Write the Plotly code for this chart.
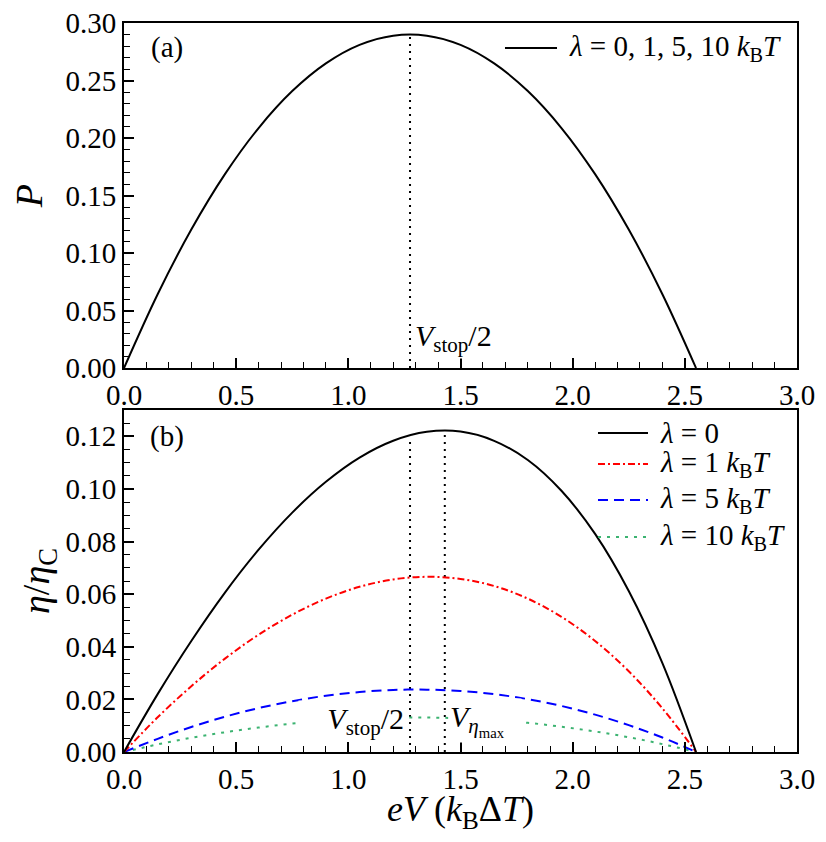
import plotly.graph_objects as go
from plotly.subplots import make_subplots

# ---- data ----
eV = [0.0, 0.15, 0.30, 0.45, 0.60, 0.75, 0.90, 1.05, 1.20, 1.35, 1.50, 1.65, 1.80, 1.95, 2.10, 2.25, 2.40, 2.55]
power = [0.0, 0.0642, 0.1204, 0.1686, 0.2087, 0.2408, 0.2649, 0.2810, 0.2890, 0.2890, 0.2810, 0.2649, 0.2408, 0.2087, 0.1686, 0.1204, 0.0642, 0.0]
eta_l0 = [0.0, 0.0220, 0.0422, 0.0606, 0.0769, 0.0910, 0.1027, 0.1119, 0.1183, 0.1217, 0.1218, 0.1183, 0.1110, 0.0993, 0.0829, 0.0612, 0.0338, 0.0]
eta_l1 = [0.0, 0.0132, 0.0250, 0.0355, 0.0446, 0.0522, 0.0583, 0.0628, 0.0656, 0.0666, 0.0658, 0.0631, 0.0583, 0.0514, 0.0422, 0.0307, 0.0166, 0.0]
eta_l5 = [0.0, 0.0050, 0.0095, 0.0134, 0.0167, 0.0193, 0.0214, 0.0228, 0.0236, 0.0237, 0.0232, 0.0220, 0.0201, 0.0175, 0.0142, 0.0102, 0.0055, 0.0]
eta_l10 = [0.0, 0.0029, 0.0054, 0.0075, 0.0093, 0.0108, 0.0119, 0.0127, 0.0131, 0.0131, 0.0128, 0.0121, 0.0111, 0.0096, 0.0078, 0.0056, 0.0030, 0.0]
v_stop_half = 1.275
v_eta_max = 1.43
p_at_half = 0.290
eta_at_half = 0.1195
eta_at_max = 0.1223

x_ticks = [0.0, 0.5, 1.0, 1.5, 2.0, 2.5, 3.0]
p_ticks = [0.0, 0.05, 0.10, 0.15, 0.20, 0.25, 0.30]
eta_ticks = [0.0, 0.02, 0.04, 0.06, 0.08, 0.10, 0.12]

FONT = "Liberation Serif, DejaVu Serif, serif"
KBT = "<i>k</i><sub>B</sub><i>T</i>"
DOT = "2px,5px"

fig = make_subplots(rows=2, cols=1, shared_xaxes=False, vertical_spacing=0.0)

fig.add_trace(go.Scatter(x=eV, y=power, mode="lines", line=dict(color="black", width=2, shape="spline"),
                         name="<i>λ</i> = 0, 1, 5, 10 " + KBT, showlegend=False), row=1, col=1)
fig.add_trace(go.Scatter(x=[v_stop_half, v_stop_half], y=[0, p_at_half], mode="lines",
                         line=dict(color="black", width=2, dash=DOT), showlegend=False), row=1, col=1)
fig.add_trace(go.Scatter(x=[v_stop_half, v_stop_half], y=[0, eta_at_half], mode="lines",
                         line=dict(color="black", width=2, dash=DOT), showlegend=False), row=2, col=1)
fig.add_trace(go.Scatter(x=[v_eta_max, v_eta_max], y=[0, eta_at_max], mode="lines",
                         line=dict(color="black", width=2, dash=DOT), showlegend=False), row=2, col=1)

series = [
    (eta_l10, "<i>λ</i> = 10 " + KBT, "#3cb371", "3px,6px"),
    (eta_l5, "<i>λ</i> = 5 " + KBT, "blue", "10px,6px"),
    (eta_l1, "<i>λ</i> = 1 " + KBT, "red", "7px,3px,2px,3px"),
    (eta_l0, "<i>λ</i> = 0", "black", "solid"),
]
for ys, nm, col, dash in series:
    fig.add_trace(go.Scatter(x=eV, y=ys, mode="lines", name=nm,
                             line=dict(color=col, width=2, dash=dash, shape="spline"),
                             showlegend=False), row=2, col=1)

axis_common = dict(showline=True, linecolor="black", linewidth=2, mirror=True,
                   ticks="inside", ticklen=10, tickwidth=1.5, tickcolor="black",
                   showgrid=False, zeroline=False, ticklabeloverflow="allow", automargin=False,
                   tickfont=dict(family=FONT, size=29, color="black"))

fig.update_xaxes(range=[0, 3], tickvals=x_ticks, ticktext=[f"{v:.1f}" for v in x_ticks],
                 minor=dict(dtick=0.1, ticks="inside", ticklen=6, tickwidth=1.2, tickcolor="black"),
                 **axis_common)
fig.update_yaxes(range=[0, 0.30], tickvals=p_ticks, ticktext=[f"{v:.2f}" for v in p_ticks],
                 minor=dict(dtick=0.01, ticks="inside", ticklen=6, tickwidth=1.2, tickcolor="black"),
                 title=dict(text="<i>P</i>", font=dict(family=FONT, size=38), standoff=14),
                 row=1, col=1, **axis_common)
fig.update_yaxes(range=[0, 0.13], tickvals=eta_ticks, ticktext=[f"{v:.2f}" for v in eta_ticks],
                 minor=dict(dtick=0.005, ticks="inside", ticklen=6, tickwidth=1.2, tickcolor="black"),
                 title=dict(text="<i>η</i>/<i>η</i><sub>C</sub>", font=dict(family=FONT, size=38), standoff=4),
                 row=2, col=1, **axis_common)
fig.update_xaxes(title=dict(text="<i>eV</i>&nbsp;(<i>k</i><sub>B</sub>Δ<i>T</i>)", font=dict(family=FONT, size=36), standoff=9),
                 row=2, col=1)

# hand-placed legends (paper coordinates)
leg_top = [("<i>λ</i> = 0, 1, 5, 10 " + KBT, "black", "solid", 0.9657)]
leg_bot = [
    ("<i>λ</i> = 0", "black", "solid", 0.4376),
    ("<i>λ</i> = 1 " + KBT, "red", "7px,3px,2px,3px", 0.3951),
    ("<i>λ</i> = 5 " + KBT, "blue", "10px,6px", 0.3457),
    ("<i>λ</i> = 10 " + KBT, "#3cb371", "3px,6px", 0.2949),
]
shapes = []
annotations = []
for (txt, col, dash, yy), (x0, x1, xt) in (
        [(e, (0.5661, 0.6434, 0.6582)) for e in leg_top] +
        [(e, (0.7043, 0.7786, 0.7935)) for e in leg_bot]):
    shapes.append(dict(type="line", xref="paper", yref="paper", x0=x0, x1=x1, y0=yy, y1=yy,
                       line=dict(color=col, width=2, dash=dash)))
    annotations.append(dict(x=xt, y=yy, xref="paper", yref="paper", text=txt, showarrow=False,
                            font=dict(family=FONT, size=29, color="black"),
                            xanchor="left", yanchor="middle"))

annotations += [
    dict(x=0.19, y=0.279, xref="x", yref="y", text="(a)", showarrow=False,
         font=dict(family=FONT, size=29), xanchor="center", yanchor="middle"),
    dict(x=0.19, y=0.1198, xref="x2", yref="y2", text="(b)", showarrow=False,
         font=dict(family=FONT, size=29), xanchor="center", yanchor="middle"),
    dict(x=1.29, y=0.026, xref="x", yref="y", text="<i>V</i><sub>stop</sub>/2", showarrow=False,
         font=dict(family=FONT, size=30), xanchor="left", yanchor="middle", bgcolor="white"),
    dict(x=1.255, y=0.0118, xref="x2", yref="y2", text="<i>V</i><sub>stop</sub>/2", showarrow=False,
         font=dict(family=FONT, size=30), xanchor="right", yanchor="middle", bgcolor="white",
         width=104, align="right"),
    dict(x=1.445, y=0.0118, xref="x2", yref="y2", text="<i>V</i><sub><i>η</i><sub>max</sub></sub>", showarrow=False,
         font=dict(family=FONT, size=30), xanchor="left", yanchor="middle", bgcolor="white",
         width=70, align="left"),
]

fig.update_layout(
    width=810, height=826,
    margin=dict(l=116, r=21, t=15, b=82),
    paper_bgcolor="white", plot_bgcolor="white",
    font=dict(family=FONT, size=24, color="black"),
    yaxis=dict(domain=[0.5267, 1.0]),
    yaxis2=dict(domain=[0.0, 0.4691]),
    showlegend=False,
    shapes=shapes,
    annotations=annotations,
)

fig.write_html("out.html")
